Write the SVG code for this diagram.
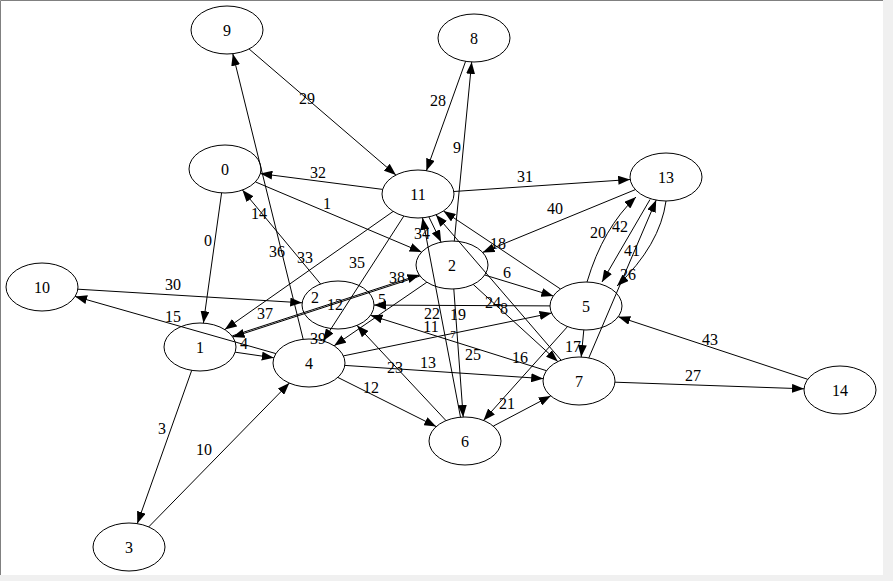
<svg xmlns="http://www.w3.org/2000/svg" width="893" height="581" viewBox="0 0 893 581">
<defs>
<style>
.n ellipse{fill:none;stroke:#000;stroke-width:1}
text{font-family:"Liberation Serif","Times New Roman",serif;font-size:16px;fill:#000;text-anchor:middle}
#edges line,#edges path{stroke:#000;stroke-width:1;fill:none;marker-end:url(#a)}
</style>
<marker id="a" viewBox="0 0 12 9" refX="12" refY="4.5" markerWidth="12" markerHeight="9" markerUnits="userSpaceOnUse" orient="auto"><path d="M0,0L12,4.5L0,9z" fill="#000"/></marker>
</defs>
<rect x="0" y="0" width="893" height="581" fill="#f0f0f0"/>
<rect x="0" y="0" width="883" height="575" fill="#fff"/>
<path d="M0.5,575V0.5H883" fill="none" stroke="#808080" stroke-width="1"/>
<g id="edges">
<line x1="249.1" y1="49" x2="395.9" y2="175"/>
<line x1="465.6" y1="61.3" x2="426.4" y2="170.7"/>
<line x1="454.3" y1="241.1" x2="471.7" y2="61.9"/>
<line x1="303.2" y1="339.3" x2="232.8" y2="53.7"/>
<line x1="382.7" y1="189.4" x2="260.3" y2="173.6"/>
<line x1="453.8" y1="191.5" x2="630.2" y2="179.5"/>
<line x1="255.4" y1="181.9" x2="421.6" y2="252.1"/>
<line x1="221.6" y1="192.9" x2="203.4" y2="323.1"/>
<line x1="320.6" y1="284" x2="242.4" y2="190"/>
<line x1="393.2" y1="211.4" x2="224.8" y2="329.6"/>
<line x1="403.8" y1="216.1" x2="323.2" y2="340.9"/>
<line x1="77.8" y1="289.2" x2="302.2" y2="302.8"/>
<line x1="275.9" y1="353.6" x2="75.1" y2="296.4"/>
<line x1="235.2" y1="352.2" x2="273.8" y2="357.8"/>
<line x1="191.7" y1="370.4" x2="137.3" y2="523.6"/>
<line x1="148.7" y1="526.9" x2="289.3" y2="383.1"/>
<line x1="232.2" y1="335.9" x2="419.4" y2="274.9"/>
<line x1="419.8" y1="276.1" x2="232.6" y2="337.1"/>
<line x1="550" y1="305.9" x2="374" y2="305.1"/>
<line x1="546.5" y1="370.7" x2="370.5" y2="315.3"/>
<line x1="446" y1="420.6" x2="357" y2="325.4"/>
<line x1="343.4" y1="355.9" x2="551.6" y2="313.1"/>
<line x1="344.8" y1="365.4" x2="543.2" y2="378.6"/>
<line x1="337.8" y1="377.4" x2="436.2" y2="426.6"/>
<line x1="493.3" y1="426.1" x2="550.7" y2="395.9"/>
<line x1="567.5" y1="326.6" x2="483.5" y2="420.4"/>
<line x1="583.8" y1="330" x2="581.2" y2="357"/>
<line x1="588.8" y1="357.9" x2="656.2" y2="200.1"/>
<line x1="650" y1="199.5" x2="602" y2="282"/>
<path d="M587,282Q603,228 636,197"/>
<path d="M666,201Q660,245 617,286"/>
<line x1="615" y1="382.2" x2="804" y2="388.8"/>
<line x1="807.7" y1="379.3" x2="618.3" y2="316.7"/>
<line x1="635.4" y1="189.6" x2="482.6" y2="252.4"/>
<line x1="484.7" y1="275" x2="553.3" y2="296"/>
<line x1="473.2" y1="284.4" x2="557.8" y2="361.6"/>
<line x1="561.1" y1="360.2" x2="435.9" y2="214.8"/>
<line x1="560.5" y1="289" x2="443.5" y2="211"/>
<line x1="428.9" y1="216.9" x2="441.1" y2="242.1"/>
<line x1="460.5" y1="417.2" x2="422.5" y2="217.8"/>
<line x1="453.8" y1="289" x2="463.2" y2="417"/>
<line x1="426.9" y1="282.2" x2="334.1" y2="345.8"/>
</g>
<g id="edge-labels">
<text x="307" y="103.5">29</text>
<text x="438" y="105.5">28</text>
<text x="457" y="152.5">9</text>
<text x="318" y="177.5">32</text>
<text x="525" y="181.5">31</text>
<text x="327" y="208.5">1</text>
<text x="555" y="213.5">40</text>
<text x="259" y="218.5">14</text>
<text x="208" y="245.5">0</text>
<text x="598" y="237.5">20</text>
<text x="620" y="231.5">42</text>
<text x="498" y="248.5">18</text>
<text x="422" y="238.5">34</text>
<text x="632" y="255.5">41</text>
<text x="277" y="256.5">36</text>
<text x="305" y="262.5">33</text>
<text x="357" y="267.5">35</text>
<text x="628" y="279.5">26</text>
<text x="507" y="277.5">6</text>
<text x="173" y="289.5">30</text>
<text x="397" y="282.5">38</text>
<text x="315" y="302.5">2</text>
<text x="382" y="304.5">5</text>
<text x="493" y="307.5">24</text>
<text x="504" y="313.5">8</text>
<text x="173" y="321.5">15</text>
<text x="265" y="318.5">37</text>
<text x="432" y="318.5">22</text>
<text x="458" y="319.5">19</text>
<text x="431" y="332">11</text>
<text x="453" y="338" style="font-size:11px">7</text>
<text x="710" y="344.5">43</text>
<text x="244" y="348.5">4</text>
<text x="318" y="343.5">39</text>
<text x="573" y="351.5">17</text>
<text x="473" y="359.5">25</text>
<text x="520" y="362.5">16</text>
<text x="428" y="367.5">13</text>
<text x="395" y="372.5">23</text>
<text x="693" y="380.5">27</text>
<text x="371" y="392.5">12</text>
<text x="507" y="408.5">21</text>
<text x="204" y="454.5">10</text>
<text x="162" y="433.5">3</text>
</g>
<g id="node0" class="n"><ellipse cx="225" cy="169" rx="36" ry="24"/><text x="225" y="174.5">0</text></g>
<g id="node1" class="n"><ellipse cx="200" cy="347" rx="36" ry="24"/><text x="200" y="352.5">1</text></g>
<g id="node2" class="n"><ellipse cx="452" cy="265" rx="36" ry="24"/><text x="452" y="270.5">2</text></g>
<g id="node3" class="n"><ellipse cx="129" cy="547" rx="36" ry="24"/><text x="129" y="552.5">3</text></g>
<g id="node4" class="n"><ellipse cx="309" cy="363" rx="36" ry="24"/><text x="309" y="368.5">4</text></g>
<g id="node5" class="n"><ellipse cx="586" cy="306" rx="36" ry="24"/><text x="586" y="311.5">5</text></g>
<g id="node6" class="n"><ellipse cx="465" cy="441" rx="36" ry="24"/><text x="465" y="446.5">6</text></g>
<g id="node7" class="n"><ellipse cx="579" cy="381" rx="36" ry="24"/><text x="579" y="386.5">7</text></g>
<g id="node8" class="n"><ellipse cx="474" cy="38" rx="36" ry="24"/><text x="474" y="43.5">8</text></g>
<g id="node9" class="n"><ellipse cx="227" cy="30" rx="36" ry="24"/><text x="227" y="35.5">9</text></g>
<g id="node10" class="n"><ellipse cx="42" cy="287" rx="36" ry="24"/><text x="42" y="292.5">10</text></g>
<g id="node11" class="n"><ellipse cx="418" cy="194" rx="36" ry="24"/><text x="418" y="199.5">11</text></g>
<g id="node12" class="n"><ellipse cx="338" cy="305" rx="36" ry="24"/><text x="335" y="310">12</text></g>
<g id="node13" class="n"><ellipse cx="666" cy="177" rx="36" ry="24"/><text x="666" y="182.5">13</text></g>
<g id="node14" class="n"><ellipse cx="840" cy="390" rx="36" ry="24"/><text x="840" y="395.5">14</text></g>
</svg>
